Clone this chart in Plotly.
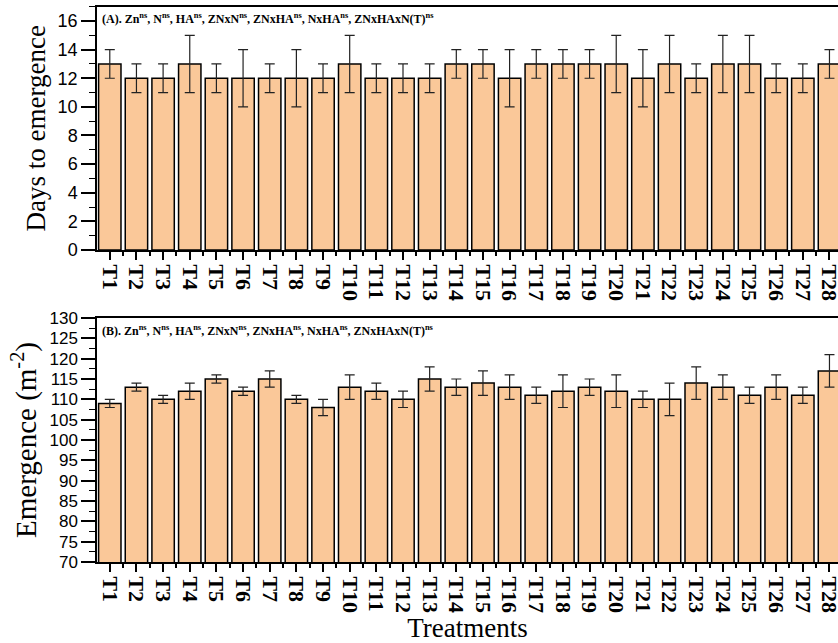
import plotly.graph_objects as go

treatments = [f"T{i}" for i in range(1, 29)]

days_mean = [13, 12, 12, 13, 12, 12, 12, 12, 12, 13, 12, 12, 12, 13,
             13, 12, 13, 13, 13, 13, 12, 13, 12, 13, 13, 12, 12, 13]
days_err = [1, 1, 1, 2, 1, 2, 1, 2, 1, 2, 1, 1, 1, 1,
            1, 2, 1, 1, 1, 2, 2, 2, 1, 2, 2, 1, 1, 1]

emerg_mean = [109, 113, 110, 112, 115, 112, 115, 110, 108, 113, 112, 110, 115, 113,
              114, 113, 111, 112, 113, 112, 110, 110, 114, 113, 111, 113, 111, 117]
emerg_err = [1, 1, 1, 2, 1, 1, 2, 1, 2, 3, 2, 2, 3, 2,
             3, 3, 2, 4, 2, 4, 2, 4, 4, 3, 2, 3, 2, 4]

xpos = list(range(len(treatments)))

BAR = "#FAC899"
SERIF = "Liberation Serif, Times New Roman, serif"
SANS = "Liberation Sans, Arial, sans-serif"

note_a = ("<b>(A). Zn<sup>ns</sup>, N<sup>ns</sup>, HA<sup>ns</sup>, ZNxN<sup>ns</sup>, "
          "ZNxHA<sup>ns</sup>, NxHA<sup>ns</sup>, ZNxHAxN(T)<sup>ns</sup></b>")
note_b = ("<b>(B). Zn<sup>ns</sup>, N<sup>ns</sup>, HA<sup>ns</sup>, ZNxN<sup>ns</sup>, "
          "ZNxHA<sup>ns</sup>, NxHA<sup>ns</sup>, ZNxHAxN(T)<sup>ns</sup></b>")

fig = go.Figure()
common_bar = dict(width=0.84, marker=dict(color=BAR, line=dict(color="black", width=1.5)),
                  showlegend=False)
fig.add_trace(go.Bar(x=xpos, y=days_mean, xaxis="x", yaxis="y",
                     error_y=dict(type="data", array=days_err, visible=True,
                                  color="#222222", thickness=1.2, width=5),
                     **common_bar))
fig.add_trace(go.Bar(x=xpos, y=emerg_mean, xaxis="x2", yaxis="y2",
                     error_y=dict(type="data", array=emerg_err, visible=True,
                                  color="#222222", thickness=1.2, width=5),
                     **common_bar))

xcommon = dict(
    range=[-0.48, 27.32], domain=[0, 1], tickmode="array", tickvals=xpos,
    ticktext=treatments, tickangle=90, ticks="outside", ticklen=8, tickwidth=1.5,
    tickcolor="black", showline=True, linecolor="black", linewidth=2, mirror=True,
    showgrid=False, zeroline=False, ticklabeloverflow="allow", automargin=False,
    tickfont=dict(family=SERIF, size=22, color="black", weight="bold"),
    minor=dict(ticks="outside", ticklen=4, tickwidth=1.5, tickcolor="black",
               tickmode="linear", tick0=0.5, dtick=1, showgrid=False),
)

fig.update_layout(
    width=838, height=643,
    margin=dict(l=97, r=0, t=0, b=0, pad=0, autoexpand=False),
    plot_bgcolor="white", paper_bgcolor="white",
    bargap=0.16,
    xaxis=dict(anchor="y", **xcommon),
    xaxis2=dict(anchor="y2", title=dict(text="Treatments", standoff=4,
                font=dict(family=SERIF, size=27, color="black")), **xcommon),
    yaxis=dict(
        domain=[0.6112, 0.9896], range=[0, 17], anchor="x", automargin=False,
        tickmode="linear", tick0=0, dtick=2, ticks="outside", ticklen=14,
        tickwidth=1.5, tickcolor="black", showline=True, linecolor="black",
        linewidth=1.5, showgrid=False, zeroline=False,
        tickfont=dict(family=SANS, size=18, color="black"),
        minor=dict(ticks="outside", ticklen=6, tickwidth=1.2, tickcolor="black",
                   dtick=1, showgrid=False),
        title=dict(text="Days to emergence", standoff=4,
                   font=dict(family=SERIF, size=27, color="black")),
    ),
    yaxis2=dict(
        domain=[0.126, 0.5054], range=[70, 130], anchor="x2", automargin=False,
        tickmode="linear", tick0=70, dtick=5, ticks="outside", ticklen=14,
        tickwidth=1.5, tickcolor="black", showline=True, linecolor="black",
        linewidth=1.5, showgrid=False, zeroline=False,
        tickfont=dict(family=SANS, size=17, color="black"),
        minor=dict(ticks="outside", ticklen=6, tickwidth=1.2, tickcolor="black",
                   dtick=2.5, showgrid=False),
        title=dict(text="Emergence (m<sup>-2</sup>)", standoff=4,
                   font=dict(family=SERIF, size=29, color="black")),
    ),
    annotations=[
        dict(text=note_a, xref="paper", yref="paper", x=0.004, y=0.9896 - 0.004,
             xanchor="left", yanchor="top", showarrow=False,
             font=dict(family=SERIF, size=12, color="black")),
        dict(text=note_b, xref="paper", yref="paper", x=0.004, y=0.5054 - 0.004,
             xanchor="left", yanchor="top", showarrow=False,
             font=dict(family=SERIF, size=12, color="black")),
    ],
)

fig.write_html(
    "out.html",
    config={"displayModeBar": False},
    post_script="document.body.style.margin='0';document.body.style.overflow='hidden';",
)
